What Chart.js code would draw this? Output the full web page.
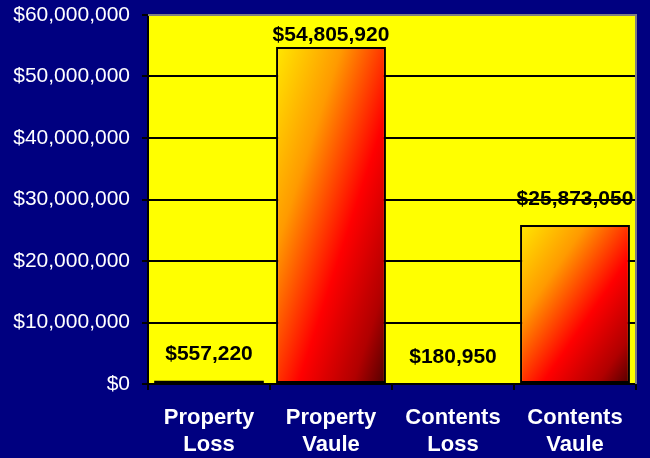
<!DOCTYPE html>
<html>
<head>
<meta charset="utf-8">
<script src="https://cdn.jsdelivr.net/npm/chart.js@4"></script>
<style>
  html, body { margin: 0; padding: 0; background: #000080; }
  #wrap { width: 650px; height: 458px; }
</style>
</head>
<body>
<div id="wrap"><canvas id="c" width="650" height="458"></canvas></div>
<script>
const categories = [["Property", "Loss"], ["Property", "Vaule"], ["Contents", "Loss"], ["Contents", "Vaule"]];
const values = [557220, 54805920, 180950, 25873050];
const yTicks = [0, 10000000, 20000000, 30000000, 40000000, 50000000, 60000000];

function fmt(v) { return '$' + v.toLocaleString('en-US'); }

function barGradient(ctx) {
  const chart = ctx.chart;
  const xs = chart.scales.x, ys = chart.scales.y;
  if (!xs || !ys || ctx.type !== 'data') return '#FF4000';
  const i = ctx.dataIndex;
  const cx = xs.getPixelForValue(i);
  const w = (xs.width / categories.length) * 0.9;
  const top = ys.getPixelForValue(values[i]);
  const bottom = ys.getPixelForValue(0);
  const h = Math.max(bottom - top, 1);
  if (![cx, w, top, bottom, h].every(Number.isFinite) || w <= 0) return '#FF4000';
  const x0 = cx - w / 2, y0 = top;
  const k = 2 / (1 / (w * w) + 1 / (h * h));
  const x1 = x0 + k / w, y1 = y0 + k / h;
  if (![x0, y0, x1, y1].every(Number.isFinite)) return '#FF4000';
  const g = chart.ctx.createLinearGradient(x0, y0, x1, y1);
  g.addColorStop(0, '#FFE800');
  g.addColorStop(0.3, '#FF9A00');
  g.addColorStop(0.6, '#FF0000');
  g.addColorStop(0.85, '#B00000');
  g.addColorStop(1, '#500000');
  return g;
}

const labelPlugin = {
  id: 'labels',
  afterDatasetsDraw(chart) {
    const c = chart.ctx;
    const meta = chart.getDatasetMeta(0);
    c.save();
    c.font = 'bold 21px "Liberation Sans", Arial, sans-serif';
    c.fillStyle = '#000000';
    c.textAlign = 'center';
    c.textBaseline = 'middle';
    meta.data.forEach((bar, i) => {
      const y = Math.max(bar.y - 26, chart.chartArea.top + 20);
      c.fillText(fmt(values[i]), bar.x, y);
    });
    c.restore();
  },
  afterDraw(chart) {
    const a = chart.chartArea, c = chart.ctx;
    c.save();
    c.strokeStyle = '#808080';
    c.lineWidth = 2;
    c.beginPath();
    c.moveTo(a.left, a.top);
    c.lineTo(a.right, a.top);
    c.lineTo(a.right, a.bottom);
    c.stroke();
    c.restore();
  }
};

const bgPlugin = {
  id: 'bg',
  beforeDraw(chart) {
    const c = chart.ctx, a = chart.chartArea;
    c.save();
    c.fillStyle = '#000080';
    c.fillRect(0, 0, chart.width, chart.height);
    c.fillStyle = '#FFFF00';
    c.fillRect(a.left, a.top, a.right - a.left, a.bottom - a.top);
    c.restore();
  }
};

const chart = new Chart(document.getElementById('c'), {
  type: 'bar',
  data: {
    labels: categories,
    datasets: [{
      data: values,
      backgroundColor: barGradient,
      borderColor: '#000000',
      borderWidth: 2,
      borderSkipped: false,
      barPercentage: 0.9,
      categoryPercentage: 1.0
    }]
  },
  options: {
    responsive: false,
    animation: false,
    layout: { padding: { top: 15, right: 14, left: 0, bottom: 0 } },
    plugins: { legend: { display: false }, tooltip: { enabled: false } },
    scales: {
      x: {
        grid: { display: true, drawOnChartArea: false, drawTicks: true, tickLength: 6, color: '#000000', lineWidth: 2, offset: true },
        border: { display: true, color: '#000000', width: 2 },
        ticks: {
          color: '#FFFFFF',
          font: { family: '"Liberation Sans", Arial, sans-serif', size: 22, weight: 'bold', lineHeight: 1.2 },
          padding: 15,
          maxRotation: 0,
          autoSkip: false
        },
        afterFit(scale) { scale.height = 74; scale.paddingLeft = 0; scale.paddingRight = 0; }
      },
      y: {
        min: 0,
        max: 60000000,
        afterBuildTicks(scale) { scale.ticks = yTicks.map(v => ({ value: v })); },
        grid: { color: '#000000', lineWidth: 2, tickLength: 6 },
        border: { display: true, color: '#000000', width: 2 },
        ticks: {
          color: '#FFFFFF',
          font: { family: '"Liberation Sans", Arial, sans-serif', size: 21 },
          padding: 12,
          callback: v => fmt(v)
        },
        afterFit(scale) { scale.width = 148; scale.paddingTop = 0; scale.paddingBottom = 0; }
      }
    }
  },
  plugins: [bgPlugin, labelPlugin]
});
chart.update('none');
</script>
</body>
</html>
